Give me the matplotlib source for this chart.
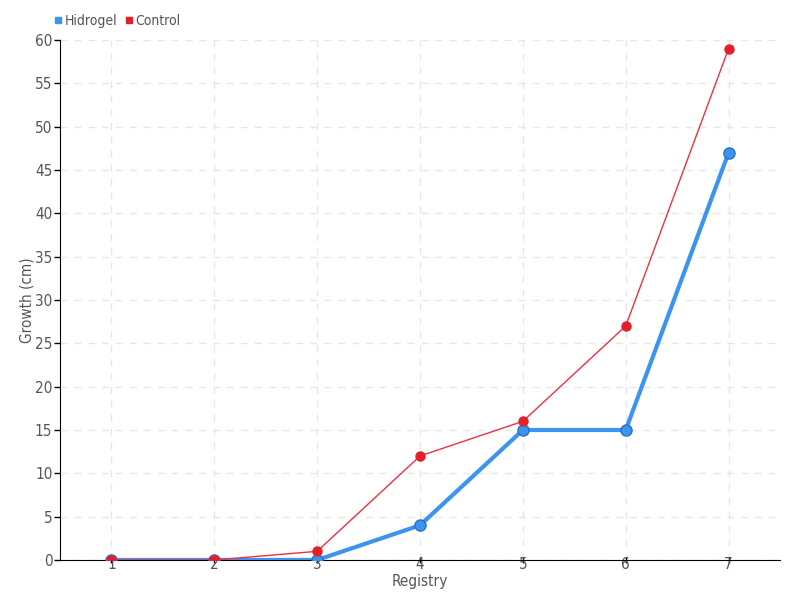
import matplotlib
matplotlib.use('Agg')
import matplotlib.pyplot as plt
from matplotlib.lines import Line2D

registry = [1, 2, 3, 4, 5, 6, 7]
hidrogel = [0, 0, 0, 4, 15, 15, 47]
control = [0, 0, 1, 12, 16, 27, 59]

plt.rcParams['font.family'] = ['DejaVu Sans']
plt.rcParams['font.stretch'] = 'condensed'

fig = plt.figure(figsize=(8, 6), dpi=100)
ax = fig.add_axes([0.075, 0.0667, 0.9, 0.8666])

ax.plot(registry, hidrogel, color='#3d94f0', linewidth=3, marker='o',
        markersize=8, markerfacecolor='#3d94f0', markeredgecolor='#2a6fc0',
        markeredgewidth=1, zorder=3)
ax.plot(registry, control, color='#f0303f', linewidth=1, marker='o',
        markersize=6.5, markerfacecolor='#e3202a', markeredgecolor='#e3202a',
        zorder=4)

ax.set_xlim(0.5, 7.5)
ax.set_ylim(0, 60)
ax.set_xticks(registry)
ax.set_yticks(range(0, 61, 5))
ax.tick_params(axis='both', labelsize=11, labelcolor='#555555', length=4,
               width=1, color='black')
ax.tick_params(axis='y', pad=1.5)
ax.tick_params(axis='x', pad=-4, direction='inout')
ax.grid(True, linestyle=(0, (5, 5)), color='#e6e6e6', linewidth=1)
ax.set_axisbelow(True)
for s in ['top', 'right']:
    ax.spines[s].set_visible(False)

ax.set_xlabel('Registry', fontsize=11, color='#555555', labelpad=1)
ax.set_ylabel('Growth (cm)', fontsize=11, color='#555555')
ax.yaxis.set_label_coords(-0.036, 0.5)

handles = [
    Line2D([], [], linestyle='none', marker='s', markersize=5, color='#3d94f0'),
    Line2D([], [], linestyle='none', marker='s', markersize=5, color='#e3202a'),
]
fig.legend(handles, ['Hidrogel', 'Control'], loc='upper left',
           bbox_to_anchor=(0.05, 0.998), ncol=2, frameon=False, fontsize=10,
           handletextpad=0.1, columnspacing=0.4, handlelength=0.8,
           labelcolor='#555555')

fig.savefig('out.png', dpi=100)
